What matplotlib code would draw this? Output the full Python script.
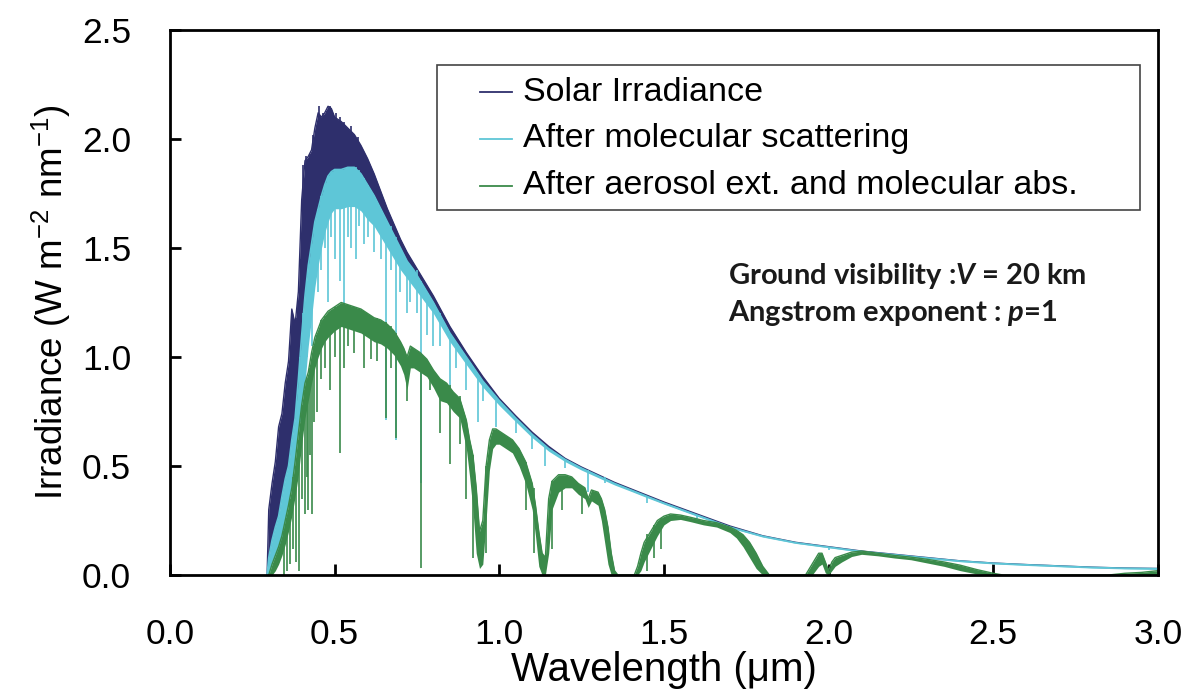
import numpy as np
import matplotlib
matplotlib.use("Agg")
import matplotlib.pyplot as plt
from matplotlib.patches import Rectangle

plt.rcParams['font.family'] = ['Liberation Sans', 'DejaVu Sans']
plt.rcParams['mathtext.fontset'] = 'custom'
plt.rcParams['mathtext.rm'] = 'Liberation Sans'
plt.rcParams['mathtext.it'] = 'Lato:italic:bold'
plt.rcParams['mathtext.bf'] = 'Lato:bold'

# ---------------- data ----------------
wavelength = [0.295, 0.30, 0.31, 0.32, 0.33, 0.34, 0.35, 0.36, 0.37, 0.38, 0.39,
              0.40, 0.41, 0.42, 0.43, 0.44, 0.45, 0.46, 0.47, 0.48, 0.49, 0.50,
              0.52, 0.54, 0.56, 0.58, 0.60, 0.62, 0.64, 0.66, 0.68, 0.70, 0.72,
              0.74, 0.76, 0.78, 0.80, 0.85, 0.90, 0.95, 1.00, 1.05, 1.10, 1.15,
              1.20, 1.25, 1.30, 1.35, 1.40, 1.45, 1.50, 1.60, 1.70, 1.80, 1.90,
              2.00, 2.10, 2.20, 2.30, 2.40, 2.50, 2.60, 2.70, 2.80, 2.90, 3.00]

solar_top = [0.00, 0.30, 0.42, 0.52, 0.68, 0.74, 0.88, 0.98, 1.22, 1.15, 1.30,
             1.72, 1.90, 1.92, 1.95, 2.05, 2.12, 2.10, 2.12, 2.15, 2.14, 2.10,
             2.08, 2.05, 2.02, 1.97, 1.91, 1.84, 1.76, 1.68, 1.61, 1.54, 1.48,
             1.43, 1.38, 1.33, 1.28, 1.14, 1.02, 0.91, 0.81, 0.73, 0.655, 0.59,
             0.535, 0.495, 0.46, 0.425, 0.395, 0.365, 0.335, 0.28, 0.225, 0.18, 0.15,
             0.13, 0.11, 0.095, 0.08, 0.065, 0.055, 0.048, 0.042, 0.036, 0.032, 0.03]

molec_top = [0.00, 0.08, 0.16, 0.22, 0.27, 0.36, 0.44, 0.50, 0.62, 0.72, 0.90,
             1.10, 1.28, 1.42, 1.52, 1.62, 1.68, 1.74, 1.79, 1.83, 1.85, 1.86,
             1.86, 1.87, 1.87, 1.84, 1.79, 1.74, 1.68, 1.62, 1.56, 1.50, 1.44,
             1.40, 1.35, 1.30, 1.25, 1.11, 1.00, 0.89, 0.80, 0.72, 0.645, 0.58,
             0.53, 0.49, 0.455, 0.42, 0.39, 0.36, 0.33, 0.275, 0.22, 0.178, 0.148,
             0.128, 0.108, 0.093, 0.078, 0.064, 0.054, 0.047, 0.041, 0.035, 0.031, 0.029]

molec_low = [0.00, 0.00, 0.05, 0.09, 0.12, 0.17, 0.24, 0.32, 0.40, 0.52, 0.65,
             0.78, 0.88, 1.05, 1.18, 1.32, 1.42, 1.50, 1.57, 1.62, 1.66, 1.68,
             1.68, 1.69, 1.69, 1.67, 1.63, 1.60, 1.55, 1.50, 1.45, 1.40, 1.36,
             1.32, 1.28, 1.24, 1.20, 1.07, 0.965, 0.862, 0.778, 0.703, 0.63, 0.568,
             0.52, 0.481, 0.447, 0.413, 0.384, 0.354, 0.325, 0.27, 0.216, 0.174, 0.145,
             0.125, 0.105, 0.09, 0.075, 0.061, 0.051, 0.044, 0.038, 0.032, 0.028, 0.026]

wavelength_aer = [0.30, 0.31, 0.32, 0.33, 0.34, 0.35, 0.36, 0.37, 0.38, 0.39, 0.40,
                  0.41, 0.42, 0.43, 0.44, 0.45, 0.46, 0.47, 0.48, 0.50, 0.52, 0.54,
                  0.56, 0.58, 0.60, 0.62, 0.64, 0.66, 0.68, 0.70, 0.71, 0.72, 0.73,
                  0.74, 0.76, 0.78, 0.80, 0.82, 0.84, 0.86, 0.88, 0.90, 0.91, 0.92,
                  0.93, 0.94, 0.95, 0.96, 0.97, 0.98, 0.99, 1.00, 1.02, 1.04, 1.06,
                  1.08, 1.10, 1.11, 1.12, 1.13, 1.14, 1.15, 1.16, 1.18, 1.20, 1.22,
                  1.24, 1.26, 1.27, 1.28, 1.30, 1.31, 1.32, 1.33, 1.34, 1.35, 1.36,
                  1.41, 1.42, 1.43, 1.44, 1.46, 1.48, 1.50, 1.52, 1.55, 1.58, 1.62,
                  1.66, 1.70, 1.72, 1.74, 1.76, 1.78, 1.80, 1.82, 1.93, 1.95, 1.97,
                  1.98, 1.99, 2.00, 2.01, 2.02, 2.04, 2.07, 2.10, 2.15, 2.20, 2.25,
                  2.30, 2.35, 2.40, 2.45, 2.50, 2.53, 2.85, 2.90, 2.95, 3.00]

aerosol_top = [0.00, 0.05, 0.09, 0.13, 0.18, 0.25, 0.32, 0.40, 0.52, 0.65, 0.78,
               0.88, 0.93, 1.02, 1.09, 1.13, 1.17, 1.19, 1.21, 1.23, 1.25, 1.24,
               1.23, 1.22, 1.20, 1.18, 1.17, 1.15, 1.12, 1.07, 1.04, 1.00, 1.05,
               1.04, 1.02, 0.99, 0.94, 0.90, 0.88, 0.84, 0.81, 0.71, 0.62, 0.55,
               0.40, 0.20, 0.25, 0.50, 0.62, 0.67, 0.67, 0.66, 0.64, 0.62, 0.58,
               0.52, 0.42, 0.32, 0.20, 0.10, 0.08, 0.35, 0.43, 0.46, 0.46, 0.45,
               0.42, 0.40, 0.35, 0.39, 0.38, 0.35, 0.30, 0.22, 0.10, 0.02, 0.00,
               0.00, 0.04, 0.10, 0.15, 0.20, 0.25, 0.27, 0.28, 0.275, 0.265, 0.25,
               0.24, 0.22, 0.205, 0.185, 0.15, 0.10, 0.04, 0.00, 0.00, 0.05, 0.10,
               0.10, 0.06, 0.02, 0.06, 0.08, 0.09, 0.105, 0.11, 0.10, 0.09, 0.082,
               0.072, 0.06, 0.045, 0.025, 0.008, 0.00, 0.00, 0.008, 0.012, 0.02]

aerosol_low = [0.00, 0.00, 0.02, 0.05, 0.09, 0.14, 0.20, 0.27, 0.36, 0.46, 0.60,
               0.72, 0.80, 0.88, 0.95, 1.00, 1.04, 1.07, 1.09, 1.12, 1.14, 1.13,
               1.12, 1.11, 1.09, 1.07, 1.06, 1.04, 1.01, 0.96, 0.92, 0.85, 0.95,
               0.95, 0.93, 0.91, 0.86, 0.80, 0.79, 0.75, 0.72, 0.58, 0.45, 0.30,
               0.10, 0.03, 0.05, 0.25, 0.48, 0.58, 0.60, 0.60, 0.58, 0.56, 0.50,
               0.42, 0.30, 0.18, 0.04, 0.00, 0.00, 0.10, 0.30, 0.38, 0.40, 0.40,
               0.37, 0.35, 0.31, 0.34, 0.32, 0.25, 0.15, 0.05, 0.00, 0.00, 0.00,
               0.00, 0.00, 0.02, 0.06, 0.12, 0.18, 0.23, 0.25, 0.255, 0.245, 0.23,
               0.22, 0.195, 0.17, 0.13, 0.08, 0.03, 0.00, 0.00, 0.00, 0.00, 0.04,
               0.05, 0.01, 0.00, 0.02, 0.04, 0.06, 0.085, 0.095, 0.088, 0.078, 0.07,
               0.055, 0.04, 0.02, 0.005, 0.00, 0.00, 0.00, 0.00, 0.00, 0.00]

# individual absorption lines: wavelength, bottom, top
solar_line_wl = [0.372, 0.382, 0.388, 0.397, 0.404, 0.414, 0.425, 0.435, 0.452, 0.466,
                 0.476, 0.487, 0.496, 0.505, 0.515, 0.53, 0.55, 0.57]
solar_line_lo = [0.70, 0.72, 0.80, 0.90, 1.20, 1.30, 1.40, 1.45, 1.60, 1.70,
                 1.72, 1.75, 1.78, 1.80, 1.80, 1.82, 1.84, 1.84]
solar_line_hi = [1.20, 1.18, 1.25, 1.45, 1.88, 1.92, 1.93, 2.02, 2.15, 2.12,
                 2.13, 2.15, 2.12, 2.12, 2.10, 2.08, 2.06, 2.01]

molec_line_wl = [0.385, 0.395, 0.405, 0.415, 0.43, 0.44, 0.45, 0.46, 0.47, 0.48,
                 0.49, 0.50, 0.515, 0.527, 0.54, 0.55, 0.565, 0.575, 0.59, 0.60,
                 0.62, 0.64, 0.656, 0.67, 0.687, 0.70, 0.72, 0.73, 0.75, 0.761,
                 0.78, 0.80, 0.82, 0.85, 0.87, 0.90, 0.935, 0.95, 0.99, 1.05,
                 1.10, 1.14, 1.20, 1.27, 1.32, 1.45, 1.60, 2.00]
molec_line_lo = [0.60, 0.70, 0.95, 1.00, 1.05, 1.35, 1.30, 1.40, 1.50, 1.25,
                 1.55, 1.45, 1.35, 1.23, 1.55, 1.50, 1.45, 1.60, 1.52, 1.55,
                 1.48, 1.45, 0.71, 1.40, 0.62, 1.30, 1.20, 1.25, 1.20, 0.42,
                 1.10, 1.05, 1.05, 0.86, 0.95, 0.85, 0.70, 0.80, 0.68, 0.65,
                 0.58, 0.50, 0.49, 0.38, 0.42, 0.33, 0.25, 0.115]
molec_line_hi = [0.80, 1.00, 1.20, 1.35, 1.52, 1.62, 1.68, 1.74, 1.79, 1.83,
                 1.85, 1.86, 1.86, 1.86, 1.87, 1.87, 1.87, 1.86, 1.82, 1.79,
                 1.74, 1.68, 1.63, 1.60, 1.55, 1.50, 1.44, 1.42, 1.40, 1.35,
                 1.30, 1.25, 1.20, 1.11, 1.06, 1.00, 0.91, 0.89, 0.80, 0.72,
                 0.645, 0.585, 0.53, 0.48, 0.45, 0.36, 0.275, 0.128]

aer_line_wl = [0.345, 0.355, 0.365, 0.375, 0.383, 0.393, 0.40, 0.41, 0.415, 0.42,
               0.425, 0.43, 0.437, 0.447, 0.46, 0.47, 0.486, 0.50, 0.517, 0.527,
               0.54, 0.56, 0.59, 0.61, 0.628, 0.656, 0.67, 0.687, 0.72, 0.761,
               0.79, 0.82, 0.85, 0.88, 0.90, 0.92, 0.96, 1.08, 1.105, 1.16,
               1.19, 1.25, 1.45, 1.47, 1.49]
aer_line_lo = [0.00, 0.02, 0.05, 0.12, 0.06, 0.02, 0.35, 0.28, 0.45, 0.30,
               0.55, 0.28, 0.70, 0.75, 0.90, 0.95, 0.85, 1.00, 0.56, 0.95,
               1.05, 1.02, 0.95, 0.99, 0.98, 0.72, 0.95, 0.63, 0.80, 0.03,
               0.85, 0.65, 0.51, 0.60, 0.35, 0.08, 0.10, 0.30, 0.10, 0.12,
               0.30, 0.28, 0.02, 0.08, 0.12]
aer_line_hi = [0.20, 0.26, 0.35, 0.45, 0.50, 0.62, 0.78, 0.85, 0.90, 0.90,
               0.95, 0.98, 1.05, 1.10, 1.17, 1.19, 1.20, 1.23, 1.24, 1.24,
               1.24, 1.23, 1.21, 1.19, 1.18, 1.16, 1.14, 1.11, 1.00, 1.00,
               0.96, 0.90, 0.87, 0.82, 0.71, 0.55, 0.50, 0.52, 0.40, 0.43,
               0.45, 0.41, 0.19, 0.23, 0.26]

series_names = ['Solar Irradiance', 'After molecular scattering',
                'After aerosol ext. and molecular abs.']
x_ticks = [0.0, 0.5, 1.0, 1.5, 2.0, 2.5, 3.0]
y_ticks = [0.0, 0.5, 1.0, 1.5, 2.0, 2.5]

# ---------------- styles ----------------
c_sol = '#2e2f6c'
c_mol = '#5ec6d7'
c_aer = '#3a8a4a'

fig = plt.figure(figsize=(11.86, 6.97), dpi=100)
ax = fig.add_axes([0.1433, 0.175, 0.833, 0.782])

ax.fill_between(wavelength, molec_top, solar_top, color=c_sol, lw=0, zorder=2)
ax.plot(wavelength, solar_top, color=c_sol, lw=1.0, zorder=2)
ax.vlines(solar_line_wl, solar_line_lo, solar_line_hi, color=c_sol, lw=1.2, zorder=2)

ax.fill_between(wavelength, molec_low, molec_top, color=c_mol, lw=0, zorder=3)
ax.plot(wavelength, molec_top, color=c_mol, lw=1.2, zorder=3)
ax.vlines(molec_line_wl, molec_line_lo, molec_line_hi, color=c_mol, lw=1.2, zorder=3)

ax.fill_between(wavelength_aer, aerosol_low, aerosol_top, color=c_aer, lw=0, zorder=4)
ax.plot(wavelength_aer, aerosol_top, color=c_aer, lw=1.0, zorder=4)
ax.vlines(aer_line_wl, aer_line_lo, aer_line_hi, color=c_aer, lw=1.2, zorder=4)

ax.set_xlim(0, 3.0)
ax.set_ylim(0, 2.5)
ax.set_xticks(x_ticks)
ax.set_yticks(y_ticks)
ax.set_xticklabels([f'{v:.1f}' for v in x_ticks])
ax.set_yticklabels([f'{v:.1f}' for v in y_ticks])
ax.tick_params(direction='in', length=8, width=2.0, labelsize=25.5,
               top=False, right=False)
ax.tick_params(axis='x', pad=31)
ax.tick_params(axis='y', pad=28)
for s in ax.spines.values():
    s.set_linewidth(2.0)
    s.set_zorder(6)

ax.set_xlabel('Wavelength (\u03bcm)', fontsize=29, labelpad=0)
ax.set_ylabel(r'Irradiance (W m$^{\mathregular{-2}}$ nm$^{\mathregular{-1}}$)',
              fontsize=26.5, labelpad=6)

# legend box drawn manually
ax.add_patch(Rectangle((0.270, 0.670), 0.712, 0.266, transform=ax.transAxes,
                       fill=False, edgecolor='#444444', lw=1.2, zorder=7))
rows_y = [0.886, 0.800, 0.714]
for name, col, yy in zip(series_names, [c_sol, c_mol, c_aer], rows_y):
    ax.plot([0.314, 0.346], [yy, yy], transform=ax.transAxes, color=col,
            lw=1.3, zorder=7)
    ax.text(0.357, yy, name, transform=ax.transAxes, fontsize=24.5,
            va='center', ha='left', zorder=7)

ax.text(0.565, 0.549, 'Ground visibility :$V$ = 20 km', transform=ax.transAxes,
        fontsize=21, fontweight='bold', family='Lato', va='center', ha='left',
        color='#1a1a1a')
ax.text(0.565, 0.481, 'Angstrom exponent : $p$=1', transform=ax.transAxes,
        fontsize=21, fontweight='bold', family='Lato', va='center', ha='left',
        color='#1a1a1a')

fig.savefig('out.png', dpi=100)
